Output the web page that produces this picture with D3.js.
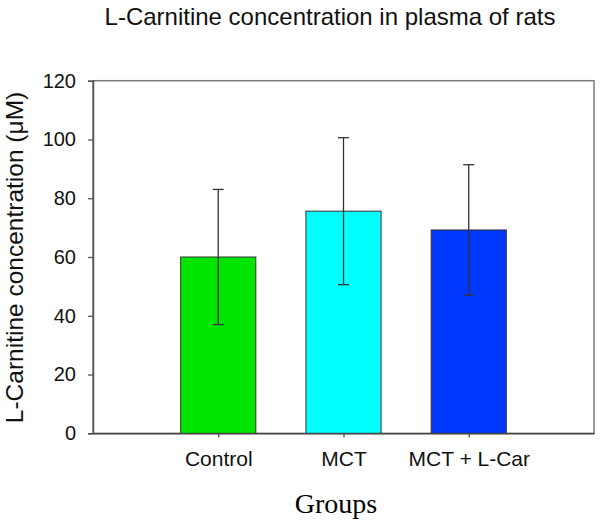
<!DOCTYPE html>
<html><head><meta charset="utf-8">
<script src="https://cdn.jsdelivr.net/npm/d3@7"></script>
<style>body{margin:0;background:#fff}svg{display:block}</style>
</head><body>
<svg id="c" width="600" height="523"></svg>
<script>
const categories = ["Control", "MCT", "MCT + L-Car"];
const means = [60, 75.6, 69.2];
const errors = [23, 25, 22.2];
const colors = ["#00e600", "#00ffff", "#0038ff"];
const yTicks = [0, 20, 40, 60, 80, 100, 120];

const svg = d3.select("#c");
const L = 93, R = 594, T = 80.7, B = 433.3;
const x = d3.scaleLinear().domain([0, 4]).range([L, R]);
const y = d3.scaleLinear().domain([0, 120]).range([B, T]);
const bw = x(0.6) - x(0);
const idx = categories.map((d, i) => i + 1);
const SANS = "Liberation Sans, Arial, sans-serif";

// frame
svg.append("rect").attr("x", L).attr("y", T).attr("width", R - L).attr("height", B - T)
  .attr("fill", "none").attr("stroke", "#7a7a7a").attr("stroke-width", 1.5);

// bars
svg.selectAll("rect.bar").data(means).join("rect").attr("class", "bar")
  .attr("x", (d, i) => x(idx[i]) - bw / 2).attr("y", d => y(d))
  .attr("width", bw).attr("height", d => y(0) - y(d))
  .attr("fill", (d, i) => colors[i]).attr("stroke", "#333").attr("stroke-width", 1);

// error bars
const eg = svg.append("g").attr("stroke", "#333").attr("stroke-width", 1.3);
means.forEach((m, i) => {
  const cx = x(idx[i]);
  eg.append("line").attr("x1", cx).attr("x2", cx).attr("y1", y(m + errors[i])).attr("y2", y(m - errors[i]));
  [m + errors[i], m - errors[i]].forEach(v => eg.append("line").attr("x1", cx - 5.5).attr("x2", cx + 5.5).attr("y1", y(v)).attr("y2", y(v)));
});

// y axis
const ya = svg.append("g").attr("transform", `translate(${L},0)`)
  .call(d3.axisLeft(y).tickValues(yTicks).tickSize(5).tickPadding(12));
ya.select(".domain").attr("stroke", "#555").attr("stroke-width", 1.5);
ya.selectAll(".tick line").attr("stroke", "#555").attr("stroke-width", 1.3);
ya.selectAll(".tick text").attr("font-family", SANS).attr("font-size", 20).attr("fill", "#111");

// x axis
const xa = svg.append("g").attr("transform", `translate(0,${B})`)
  .call(d3.axisBottom(x).tickValues(idx).tickFormat(d => categories[d - 1]).tickSize(4).tickPadding(14).tickSizeOuter(0));
xa.select(".domain").attr("stroke", "#444").attr("stroke-width", 1.5);
xa.selectAll(".tick line").attr("stroke", "#444").attr("stroke-width", 1.3);
xa.selectAll(".tick text").attr("font-family", SANS).attr("font-size", 21).attr("fill", "#111");

// titles
svg.append("text").attr("x", 330).attr("y", 25).attr("text-anchor", "middle")
  .attr("font-family", SANS).attr("font-size", 24).attr("fill", "#111")
  .text("L-Carnitine concentration in plasma of rats");
svg.append("text").attr("transform", "translate(23,257.5) rotate(-90)").attr("text-anchor", "middle")
  .attr("font-family", SANS).attr("font-size", 24.5).attr("fill", "#111")
  .text("L-Carnitine concentration (\u03bcM)");
svg.append("text").attr("x", 336).attr("y", 513).attr("text-anchor", "middle")
  .attr("font-family", "Liberation Serif, Times New Roman, serif").attr("font-size", 28).attr("fill", "#000")
  .text("Groups");
</script>
</body></html>
